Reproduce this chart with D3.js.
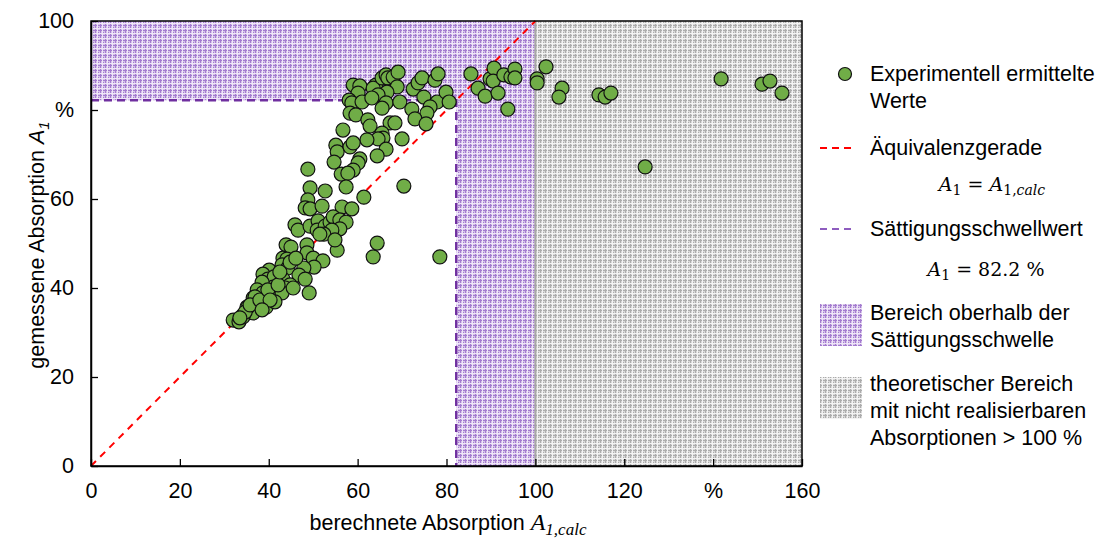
<!DOCTYPE html>
<html>
<head>
<meta charset="utf-8">
<script src="https://cdn.jsdelivr.net/npm/d3@7"></script>
<style>
  html, body { margin: 0; padding: 0; background: #fff; }
  svg { display: block; font-family: Arial, "Liberation Sans", sans-serif; }
</style>
</head>
<body>
<svg id="chart" width="1111" height="538"></svg>
<script>
// calculated absorption A1,calc (%) for each measurement
const calcValues = [
  59.0, 60.5, 60.1, 58.1, 58.7, 61.0, 58.3, 59.6, 62.3, 62.8,
  56.7, 64.1, 63.5, 65.5, 66.4, 66.8, 68.0, 69.1, 68.9, 66.6,
  64.6, 63.2, 66.4, 65.5, 69.5, 72.5, 73.6, 74.5, 77.4, 78.1,
  74.9, 77.9, 76.3, 75.6, 72.2, 72.9, 75.4, 79.9, 80.6, 85.5,
  87.1, 67.3, 68.4, 65.5, 65.7, 64.6, 70.0, 62.1, 66.4, 64.4,
  55.1, 55.4, 58.3, 59.0, 54.7, 60.5, 60.1, 59.0, 56.3, 57.8,
  48.8, 49.3, 52.7, 57.4, 70.4, 61.4, 48.8, 48.2, 49.3, 52.0,
  56.5, 58.7, 45.9, 46.6, 49.3, 51.1, 50.9, 52.7, 53.8, 54.5,
  56.0, 57.4, 56.0, 54.2, 52.4, 43.9, 45.0, 48.6, 48.6, 55.4,
  63.5, 64.4, 43.2, 44.1, 50.0, 52.2, 50.2, 43.0, 44.3, 40.1,
  38.7, 47.9, 46.8, 48.2, 39.8, 41.2, 43.2, 44.8, 43.7, 41.0,
  38.5, 37.4, 38.7, 40.7, 43.0, 45.5, 49.1, 36.5, 35.1, 36.9,
  37.6, 39.4, 41.4, 36.5, 34.2, 32.0, 33.3, 34.2, 35.3, 88.7,
  89.8, 90.7, 90.5, 91.6, 92.9, 94.5, 95.4, 95.4, 93.8, 102.4,
  100.4, 100.4, 106.0, 105.3, 114.3, 115.7, 117.0, 124.7, 141.8, 151.0,
  152.8, 155.5, 78.5, 34.7, 35.8, 38.0, 39.8, 42.1, 42.5, 44.8,
  46.1, 40.3, 38.5, 33.5, 51.5, 54.9
];
// measured absorption A1 (%) for the same measurements
const measuredValues = [
  85.6, 85.4, 83.8, 82.2, 81.6, 81.8, 79.3, 78.9, 77.8, 76.4,
  75.5, 85.6, 84.9, 87.2, 87.9, 87.2, 87.4, 88.5, 85.2, 84.0,
  83.4, 82.7, 81.6, 80.4, 81.8, 84.7, 86.1, 87.2, 86.7, 88.1,
  82.9, 81.8, 80.7, 79.3, 80.2, 78.0, 76.9, 84.0, 81.8, 88.1,
  84.9, 77.1, 77.1, 74.8, 73.7, 73.5, 73.5, 73.3, 71.2, 69.7,
  72.1, 70.6, 71.7, 72.6, 68.3, 69.0, 68.1, 66.5, 65.6, 65.8,
  66.7, 62.5, 61.8, 62.7, 62.9, 60.4, 59.8, 58.0, 57.8, 58.4,
  58.2, 57.8, 54.2, 53.0, 53.9, 55.1, 53.0, 53.9, 54.8, 56.0,
  55.3, 54.8, 53.3, 53.0, 52.1, 49.7, 49.2, 49.7, 47.9, 48.5,
  47.0, 50.1, 46.7, 46.5, 46.7, 46.1, 44.7, 45.2, 44.5, 44.0,
  43.1, 44.5, 42.9, 42.0, 42.0, 42.5, 42.0, 40.7, 40.0, 40.2,
  41.3, 39.6, 38.9, 38.4, 38.9, 40.0, 38.9, 37.8, 35.7, 38.0,
  36.6, 35.7, 36.9, 34.4, 33.9, 32.8, 32.4, 33.5, 35.7, 83.1,
  87.0, 89.4, 86.5, 83.8, 87.9, 87.4, 89.2, 87.2, 80.2, 89.7,
  87.0, 86.1, 84.9, 82.9, 83.4, 82.9, 83.8, 67.2, 87.0, 85.8,
  86.5, 83.8, 47.0, 34.6, 36.2, 37.3, 39.6, 40.7, 43.6, 45.8,
  46.7, 37.3, 35.1, 33.3, 52.1, 50.8
];
const saturation = 82.2;          // saturation threshold A1 (%)
const physicalLimit = 100;        // absorption cannot exceed 100 %
const xTicks = [0, 20, 40, 60, 80, 100, 120, 140, 160];
const xTickLabels = ["0", "20", "40", "60", "80", "100", "120", "%", "160"];
const yTicks = [0, 20, 40, 60, 80, 100];
const yTickLabels = ["0", "20", "40", "60", "%", "100"];

const points = calcValues.map((c, i) => ({ x: c, y: measuredValues[i] }));

const FS = 21.5;
const svg = d3.select("#chart");
const plot = { left: 91, right: 802, top: 21, bottom: 466 };

const x = d3.scaleLinear().domain([0, 160]).range([plot.left, plot.right]);
const y = d3.scaleLinear().domain([0, 100]).range([plot.bottom, plot.top]);

// hatch patterns for the shaded regions
const defs = svg.append("defs");
function gridPattern(id, bg, line, light) {
  const p = defs.append("pattern").attr("id", id)
    .attr("patternUnits", "userSpaceOnUse").attr("width", 5).attr("height", 5);
  p.append("rect").attr("width", 5).attr("height", 5).attr("fill", bg);
  p.append("rect").attr("x", 0).attr("y", 0).attr("width", 1).attr("height", 5).attr("fill", line);
  p.append("rect").attr("x", 0).attr("y", 0).attr("width", 5).attr("height", 1).attr("fill", line);
  p.append("rect").attr("x", 2).attr("y", 0).attr("width", 1).attr("height", 5).attr("fill", light);
  p.append("rect").attr("x", 0).attr("y", 3).attr("width", 5).attr("height", 1).attr("fill", light);
  p.append("rect").attr("x", 3).attr("y", 2).attr("width", 1).attr("height", 1).attr("fill", line);
}
gridPattern("hatchPurple", "#d6c2ea", "#a47ccf", "#efe6f8");
gridPattern("hatchGray", "#d9d9d9", "#acacac", "#f3f3f3");

// region above the saturation threshold
const regions = svg.append("g");
regions.append("rect")
  .attr("x", x(0)).attr("y", y(100))
  .attr("width", x(physicalLimit) - x(0)).attr("height", y(saturation) - y(100))
  .attr("fill", "url(#hatchPurple)");
regions.append("rect")
  .attr("x", x(saturation)).attr("y", y(saturation))
  .attr("width", x(physicalLimit) - x(saturation)).attr("height", y(0) - y(saturation))
  .attr("fill", "url(#hatchPurple)");
// theoretical region beyond 100 %
regions.append("rect")
  .attr("x", x(physicalLimit)).attr("y", y(100))
  .attr("width", x(160) - x(physicalLimit)).attr("height", y(0) - y(100))
  .attr("fill", "url(#hatchGray)");
regions.append("line")
  .attr("x1", x(physicalLimit)).attr("x2", x(physicalLimit))
  .attr("y1", y(0)).attr("y2", y(100))
  .attr("stroke", "#a6a6a6").attr("stroke-width", 2);

// saturation threshold
const satColor = "#7030a0";
svg.append("path")
  .attr("d", d3.line()([[x(0), y(saturation)], [x(saturation), y(saturation)], [x(saturation), y(0)]]))
  .attr("fill", "none").attr("stroke", satColor).attr("stroke-width", 2.5)
  .attr("stroke-dasharray", "8,5");

// equivalence line A1 = A1,calc
svg.append("line")
  .attr("x1", x(0)).attr("y1", y(0)).attr("x2", x(100)).attr("y2", y(100))
  .attr("stroke", "#ff0000").attr("stroke-width", 2).attr("stroke-dasharray", "7,6");

// axes frame
const axisColor = "#000";
svg.append("rect")
  .attr("x", plot.left).attr("y", plot.top)
  .attr("width", plot.right - plot.left).attr("height", plot.bottom - plot.top)
  .attr("fill", "none").attr("stroke", axisColor).attr("stroke-width", 1.5);

const xAxis = d3.axisBottom(x).tickValues(xTicks).tickSizeInner(-7).tickSizeOuter(0)
  .tickPadding(17).tickFormat((d, i) => xTickLabels[i]);
const gx = svg.append("g").attr("transform", `translate(0,${plot.bottom})`).call(xAxis);
gx.select(".domain").attr("stroke", axisColor).attr("stroke-width", 1.5);
gx.selectAll(".tick line").attr("stroke", axisColor).attr("stroke-width", 1.3);
gx.selectAll(".tick text").attr("font-size", FS).attr("fill", "#000")
  .attr("font-family", "Arial, 'Liberation Sans', sans-serif");

const yAxis = d3.axisLeft(y).tickValues(yTicks).tickSizeInner(-7).tickSizeOuter(0)
  .tickPadding(17).tickFormat((d, i) => yTickLabels[i]);
const gy = svg.append("g").attr("transform", `translate(${plot.left},0)`).call(yAxis);
gy.select(".domain").attr("stroke", axisColor).attr("stroke-width", 1.5);
gy.selectAll(".tick line").attr("stroke", axisColor).attr("stroke-width", 1.3);
gy.selectAll(".tick text").attr("font-size", FS).attr("fill", "#000")
  .attr("font-family", "Arial, 'Liberation Sans', sans-serif");

// measurement points
svg.append("g").selectAll("circle").data(points).join("circle")
  .attr("cx", d => x(d.x)).attr("cy", d => y(d.y)).attr("r", 7)
  .attr("fill", "#70ad47").attr("stroke", "#111").attr("stroke-width", 1.2);

// axis titles
const xt = svg.append("text").attr("x", 448).attr("y", 530).attr("text-anchor", "middle")
  .attr("font-size", FS).attr("fill", "#000");
xt.append("tspan").text("berechnete Absorption ");
xt.append("tspan").attr("font-family", "'Liberation Serif', 'DejaVu Serif', serif")
  .attr("font-style", "italic").attr("font-size", 24).text("A");
xt.append("tspan").attr("font-family", "'Liberation Serif', 'DejaVu Serif', serif")
  .attr("font-style", "italic").attr("font-size", 17).attr("dy", 5).text("1,calc");

const yt = svg.append("text").attr("transform", "translate(44,245) rotate(-90)")
  .attr("text-anchor", "middle").attr("font-size", FS).attr("fill", "#000");
yt.append("tspan").text("gemessene Absorption ");
yt.append("tspan").attr("font-style", "italic").text("A");
yt.append("tspan").attr("font-style", "italic").attr("font-size", 15).attr("dy", 5).text("1");

// legend
const leg = svg.append("g").attr("font-size", FS).attr("fill", "#000");
const tx = 870;
leg.append("circle").attr("cx", 845).attr("cy", 74).attr("r", 6.5)
  .attr("fill", "#70ad47").attr("stroke", "#111").attr("stroke-width", 1.2);
leg.append("text").attr("x", tx).attr("y", 81).text("Experimentell ermittelte");
leg.append("text").attr("x", tx).attr("y", 108).text("Werte");

leg.append("line").attr("x1", 820).attr("x2", 856).attr("y1", 148).attr("y2", 148)
  .attr("stroke", "#ff0000").attr("stroke-width", 2).attr("stroke-dasharray", "7,5");
leg.append("text").attr("x", tx).attr("y", 155).text("Äquivalenzgerade");

function mathLine(cx, cy, parts) {
  const t = leg.append("text").attr("x", cx).attr("y", cy).attr("text-anchor", "middle")
    .attr("font-family", "'DejaVu Serif', 'Liberation Serif', serif").attr("font-size", 19);
  parts.forEach(p => {
    const s = t.append("tspan").text(p.t);
    if (p.i) s.attr("font-style", "italic");
    if (p.sub) s.attr("font-size", 14).attr("dy", p.dy);
    else if (p.dy) s.attr("dy", p.dy);
  });
}
mathLine(992, 191, [
  { t: "A", i: true }, { t: "1", sub: true, dy: 4 }, { t: " = ", dy: -4 },
  { t: "A", i: true }, { t: "1,", sub: true, dy: 4 }, { t: "calc", i: true, sub: true, dy: 0 }
]);

leg.append("line").attr("x1", 820).attr("x2", 856).attr("y1", 229).attr("y2", 229)
  .attr("stroke", "#8e5cbf").attr("stroke-width", 2).attr("stroke-dasharray", "7,5");
leg.append("text").attr("x", tx).attr("y", 236).text("Sättigungsschwellwert");

mathLine(986, 276, [
  { t: "A", i: true }, { t: "1", sub: true, dy: 4 }, { t: " = 82.2 %", dy: -4 }
]);

leg.append("rect").attr("x", 820).attr("y", 304).attr("width", 42).attr("height", 42)
  .attr("fill", "url(#hatchPurple)");
leg.append("text").attr("x", tx).attr("y", 320).text("Bereich oberhalb der");
leg.append("text").attr("x", tx).attr("y", 347).text("Sättigungsschwelle");

leg.append("rect").attr("x", 820).attr("y", 377).attr("width", 42).attr("height", 42)
  .attr("fill", "url(#hatchGray)");
leg.append("text").attr("x", tx).attr("y", 391).text("theoretischer Bereich");
leg.append("text").attr("x", tx).attr("y", 418).text("mit nicht realisierbaren");
leg.append("text").attr("x", tx).attr("y", 445).text("Absorptionen > 100 %");
</script>
</body>
</html>
